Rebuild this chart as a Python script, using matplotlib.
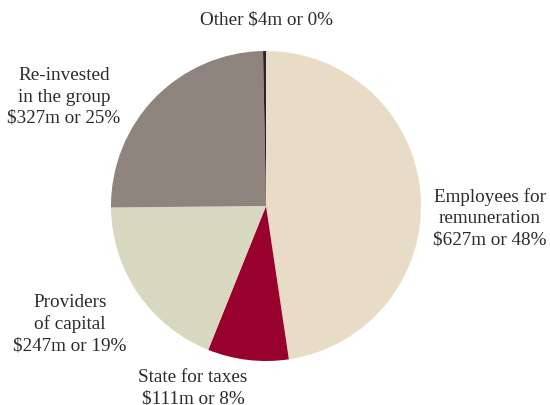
import matplotlib.pyplot as plt

labels = ["Employees for\nremuneration", "State for taxes", "Providers\nof capital",
          "Re-invested\nin the group", "Other"]
amounts = [627, 111, 247, 327, 4]
percents = [48, 8, 19, 25, 0]
colors = ["#e8dcc7", "#98002e", "#d8d8c0", "#8f837d", "#2b2424"]

W, H = 550, 406
fig = plt.figure(figsize=(W / 100, H / 100), dpi=100)
ax = fig.add_axes([0, 0, 1, 1])

ax.pie(amounts, colors=colors, startangle=90, counterclock=False,
       center=(266, H - 207), radius=155, wedgeprops=dict(linewidth=0),
       frame=True)
ax.set_xlim(0, W)
ax.set_ylim(0, H)
ax.set_aspect("equal")
ax.axis("off")

# label anchor points (centre of each text block, pixels from top-left)
spots = [(490, 218), (193, 388), (70, 324), (64, 97), (266, 20)]
for lab, amt, pct, (x, y) in zip(labels, amounts, percents, spots):
    if lab == "Other":
        txt = f"{lab} ${amt}m or {pct}%"
    else:
        txt = f"{lab}\n${amt}m or {pct}%"
    ax.text(x, H - y, txt, ha="center", va="center", fontsize=13.8,
            family="Liberation Serif", color="#2e2a2a", linespacing=1.32)

fig.savefig("out.png", dpi=100)
